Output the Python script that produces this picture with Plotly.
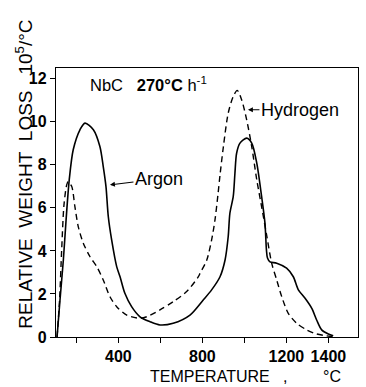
import plotly.graph_objects as go

# Temperature (°C) and relative weight loss (10^5/°C)
argon_T = [108, 122, 138, 151, 166, 185, 217, 241, 281, 312, 328, 341, 352, 368, 392, 408, 431,
           463, 503, 551, 598, 661, 741, 804, 844, 884, 908, 923, 931, 947, 955, 963, 979, 1011,
           1035, 1059, 1082, 1098, 1105, 1110, 1122, 1154, 1201, 1233, 1257, 1289, 1321, 1344,
           1368, 1400, 1423]
argon_v = [0.0, 1.72, 3.58, 5.44, 7.30, 8.70, 9.63, 9.94, 9.63, 8.85, 7.92, 6.99, 5.60, 4.51, 3.27,
           2.80, 2.03, 1.41, 0.94, 0.71, 0.56, 0.64, 1.02, 1.72, 2.19, 2.80, 3.58, 4.67, 5.75, 6.53,
           7.61, 8.54, 9.01, 9.24, 9.01, 8.08, 6.53, 5.29, 4.05, 3.67, 3.49, 3.43, 3.20, 2.80, 2.19,
           1.80, 1.33, 0.79, 0.33, 0.14, 0.06]

hydrogen_T = [108, 120, 130, 141, 154, 161, 178, 193, 209, 233, 265, 297, 328, 360, 392, 440, 503,
              535, 598, 661, 725, 781, 789, 821, 844, 860, 874, 884, 900, 923, 947, 966, 987, 1011,
              1035, 1059, 1082, 1106, 1130, 1154, 1178, 1209, 1249, 1297, 1344, 1392, 1422]
hydrogen_v = [0.0, 1.72, 4.05, 6.14, 7.07, 7.22, 6.99, 6.06, 5.13, 4.36, 3.73, 3.27, 2.65, 1.87,
              1.41, 1.02, 0.87, 0.94, 1.26, 1.64, 2.11, 2.80, 2.96, 3.58, 4.51, 5.44, 6.60, 7.53,
              8.84, 10.40, 11.18, 11.46, 11.02, 10.09, 8.85, 7.30, 6.06, 4.74, 3.43, 2.65, 1.87,
              1.10, 0.64, 0.33, 0.14, 0.05, 0.02]

x_tickvals = [400, 800, 1200, 1400]
x_ticktext = ["400", "800", "1200", "1400"]
x_minor_tickvals = [200, 600, 1000]
y_tickvals = [0, 2, 4, 6, 8, 10, 12]
y_ticktext = ["0", "2", "4", "6", "8", "10", "12"]

FONT = "Liberation Sans, Arial, sans-serif"

fig = go.Figure()
fig.add_trace(go.Scatter(x=argon_T, y=argon_v, mode="lines", name="Argon",
                         line=dict(color="black", width=1.6, shape="spline", smoothing=0.8)))
fig.add_trace(go.Scatter(x=hydrogen_T, y=hydrogen_v, mode="lines", name="Hydrogen",
                         line=dict(color="black", width=1.4, dash="6px,4px",
                                   shape="spline", smoothing=0.8)))

fig.update_layout(
    width=366, height=387,
    margin=dict(l=56, r=8, t=68, b=50),
    paper_bgcolor="white", plot_bgcolor="white",
    showlegend=False,
    font=dict(family=FONT, color="black"),
)
fig.update_xaxes(range=[103, 1541], tickvals=x_tickvals, ticktext=x_ticktext,
                 ticks="outside", ticklen=5, tickwidth=1.2, tickcolor="black",
                 minor=dict(tickvals=x_minor_tickvals, ticks="outside", ticklen=5,
                            tickwidth=1.2, tickcolor="black", showgrid=False),
                 showline=True, linecolor="black", linewidth=1.3, mirror=True,
                 showgrid=False, zeroline=False,
                 tickfont=dict(size=16, family=FONT, weight="bold"))
fig.update_yaxes(range=[0, 12.5], tickvals=y_tickvals, ticktext=y_ticktext,
                 ticks="outside", ticklen=5, tickwidth=1.2, tickcolor="black",
                 showline=True, linecolor="black", linewidth=1.3, mirror=True,
                 showgrid=False, zeroline=False,
                 tickfont=dict(size=16, family=FONT, weight="bold"))

NB = "\u00a0"
anns = [
    dict(text="RELATIVE" + NB * 2 + "WEIGHT" + NB * 2 + "LOSS" + NB + "," + NB + "10<sup>5</sup>/°C",
         xref="paper", yref="paper", x=-0.106, y=0.607, xanchor="center", yanchor="middle",
         textangle=-90, showarrow=False, font=dict(size=19, family=FONT)),
    dict(text="TEMPERATURE" + NB * 3 + "," + NB * 8 + "°C",
         xref="paper", yref="paper", x=0.3046, y=-0.145, xanchor="left", yanchor="middle",
         showarrow=False, font=dict(size=16, family=FONT)),
    dict(text="NbC" + NB * 3 + "<b>270°C</b>" + NB + "h<sup>-1</sup>",
         xref="x", yref="y", x=255, y=11.77, xanchor="left", yanchor="middle",
         showarrow=False, font=dict(size=16.5, family=FONT)),
    dict(text="Hydrogen", xref="x", yref="y", x=1017, y=10.56, ax=52, ay=0,
         xanchor="center", yanchor="middle", showarrow=True, standoff=0,
         arrowhead=2, arrowsize=0.9, arrowwidth=1.1, arrowcolor="black",
         font=dict(size=18, family=FONT)),
    dict(text="Argon", xref="x", yref="y", x=360, y=7.07, ax=49, ay=-6,
         xanchor="center", yanchor="middle", showarrow=True, standoff=0,
         arrowhead=2, arrowsize=0.9, arrowwidth=1.1, arrowcolor="black",
         font=dict(size=18, family=FONT)),
]
fig.update_layout(annotations=anns)

fig.write_html("out.html")
